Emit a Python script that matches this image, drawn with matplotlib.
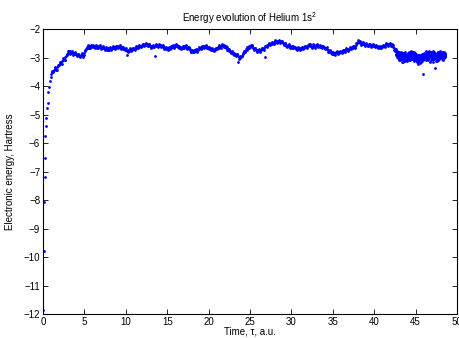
import matplotlib
matplotlib.use('Agg')
import matplotlib.pyplot as plt

plt.rcParams['font.family'] = ['Liberation Sans', 'DejaVu Sans']
plt.rcParams['mathtext.fontset'] = 'custom'
plt.rcParams['mathtext.rm'] = 'Liberation Sans'
plt.rcParams['mathtext.it'] = 'Liberation Sans:italic'

# first steps of the relaxation (steep rise)
start_t = [0.02, 0.08, 0.14, 0.18, 0.24, 0.26, 0.32, 0.38, 0.44, 0.56, 0.64, 0.72, 0.85, 0.93]
start_E = [-11.85, -9.78, -8.08, -7.18, -6.52, -5.75, -5.39, -5.12, -4.78, -4.58, -4.20, -4.02, -3.82, -3.67]

# main trajectory, one row per time unit
time = [
    1.0, 1.1, 1.2, 1.3, 1.4, 1.5, 1.6, 1.7, 1.8, 1.9,
    2.0, 2.1, 2.2, 2.3, 2.4, 2.5, 2.6, 2.7, 2.8, 2.9,
    3.0, 3.1, 3.2, 3.3, 3.4, 3.5, 3.6, 3.7, 3.8, 3.9,
    4.0, 4.1, 4.2, 4.3, 4.4, 4.5, 4.6, 4.7, 4.8, 4.9,
    5.0, 5.1, 5.2, 5.3, 5.4, 5.5, 5.6, 5.7, 5.8, 5.9,
    6.0, 6.1, 6.2, 6.3, 6.4, 6.5, 6.6, 6.7, 6.8, 6.9,
    7.0, 7.1, 7.2, 7.3, 7.4, 7.5, 7.6, 7.7, 7.8, 7.9,
    8.0, 8.1, 8.2, 8.3, 8.4, 8.5, 8.6, 8.7, 8.8, 8.9,
    9.0, 9.1, 9.2, 9.3, 9.4, 9.5, 9.6, 9.7, 9.8, 9.9,
    10.0, 10.1, 10.2, 10.3, 10.4, 10.5, 10.6, 10.7, 10.8, 10.9,
    11.0, 11.1, 11.2, 11.3, 11.4, 11.5, 11.6, 11.7, 11.8, 11.9,
    12.0, 12.1, 12.2, 12.3, 12.4, 12.5, 12.6, 12.7, 12.8, 12.9,
    13.0, 13.1, 13.2, 13.3, 13.4, 13.5, 13.6, 13.7, 13.8, 13.9,
    14.0, 14.1, 14.2, 14.3, 14.4, 14.5, 14.6, 14.7, 14.8, 14.9,
    15.0, 15.1, 15.2, 15.3, 15.4, 15.5, 15.6, 15.7, 15.8, 15.9,
    16.0, 16.1, 16.2, 16.3, 16.4, 16.5, 16.6, 16.7, 16.8, 16.9,
    17.0, 17.1, 17.2, 17.3, 17.4, 17.5, 17.6, 17.7, 17.8, 17.9,
    18.0, 18.1, 18.2, 18.3, 18.4, 18.5, 18.6, 18.7, 18.8, 18.9,
    19.0, 19.1, 19.2, 19.3, 19.4, 19.5, 19.6, 19.7, 19.8, 19.9,
    20.0, 20.1, 20.2, 20.3, 20.4, 20.5, 20.6, 20.7, 20.8, 20.9,
    21.0, 21.1, 21.2, 21.3, 21.4, 21.5, 21.6, 21.7, 21.8, 21.9,
    22.0, 22.1, 22.2, 22.3, 22.4, 22.5, 22.6, 22.7, 22.8, 22.9,
    23.0, 23.1, 23.2, 23.3, 23.4, 23.5, 23.6, 23.7, 23.8, 23.9,
    24.0, 24.1, 24.2, 24.3, 24.4, 24.5, 24.6, 24.7, 24.8, 24.9,
    25.0, 25.1, 25.2, 25.3, 25.4, 25.5, 25.6, 25.7, 25.8, 25.9,
    26.0, 26.1, 26.2, 26.3, 26.4, 26.5, 26.6, 26.7, 26.8, 26.9,
    27.0, 27.1, 27.2, 27.3, 27.4, 27.5, 27.6, 27.7, 27.8, 27.9,
    28.0, 28.1, 28.2, 28.3, 28.4, 28.5, 28.6, 28.7, 28.8, 28.9,
    29.0, 29.1, 29.2, 29.3, 29.4, 29.5, 29.6, 29.7, 29.8, 29.9,
    30.0, 30.1, 30.2, 30.3, 30.4, 30.5, 30.6, 30.7, 30.8, 30.9,
    31.0, 31.1, 31.2, 31.3, 31.4, 31.5, 31.6, 31.7, 31.8, 31.9,
    32.0, 32.1, 32.2, 32.3, 32.4, 32.5, 32.6, 32.7, 32.8, 32.9,
    33.0, 33.1, 33.2, 33.3, 33.4, 33.5, 33.6, 33.7, 33.8, 33.9,
    34.0, 34.1, 34.2, 34.3, 34.4, 34.5, 34.6, 34.7, 34.8, 34.9,
    35.0, 35.1, 35.2, 35.3, 35.4, 35.5, 35.6, 35.7, 35.8, 35.9,
    36.0, 36.1, 36.2, 36.3, 36.4, 36.5, 36.6, 36.7, 36.8, 36.9,
    37.0, 37.1, 37.2, 37.3, 37.4, 37.5, 37.6, 37.7, 37.8, 37.9,
    38.0, 38.1, 38.2, 38.3, 38.4, 38.5, 38.6, 38.7, 38.8, 38.9,
    39.0, 39.1, 39.2, 39.3, 39.4, 39.5, 39.6, 39.7, 39.8, 39.9,
    40.0, 40.1, 40.2, 40.3, 40.4, 40.5, 40.6, 40.7, 40.8, 40.9,
    41.0, 41.1, 41.2, 41.3, 41.4, 41.5, 41.6, 41.7, 41.8, 41.9,
    42.0, 42.1, 42.2, 42.3, 42.4, 42.5, 42.6, 42.7, 42.8, 42.9,
    43.0, 43.1, 43.2, 43.3, 43.4, 43.5, 43.6, 43.7, 43.8, 43.9,
    44.0, 44.1, 44.2, 44.3, 44.4, 44.5, 44.6, 44.7, 44.8, 44.9,
    45.0, 45.1, 45.2, 45.3, 45.4, 45.5, 45.6, 45.7, 45.8, 45.9,
    46.0, 46.1, 46.2, 46.3, 46.4, 46.5, 46.6, 46.7, 46.8, 46.9,
    47.0, 47.1, 47.2, 47.3, 47.4, 47.5, 47.6, 47.7, 47.8, 47.9,
    48.0, 48.1, 48.2, 48.3, 48.4, 48.5, 48.6,
]
energy = [
    -3.56, -3.50, -3.47, -3.43, -3.36, -3.40, -3.44, -3.33, -3.30, -3.27,
    -3.24, -3.18, -3.20, -3.12, -3.10, -3.04, -3.07, -2.98, -2.93, -2.90,
    -2.84, -2.78, -2.82, -2.76, -2.85, -2.80, -2.83, -2.88, -2.84, -2.87,
    -2.86, -2.91, -2.88, -2.94, -2.90, -2.96, -2.92, -2.89, -2.95, -2.91,
    -2.84, -2.76, -2.70, -2.64, -2.66, -2.61, -2.65, -2.60, -2.63, -2.59,
    -2.64, -2.60, -2.63, -2.58, -2.62, -2.66, -2.61, -2.64, -2.59, -2.63,
    -2.62, -2.66, -2.64, -2.68, -2.65, -2.71, -2.69, -2.73, -2.68, -2.70,
    -2.72, -2.67, -2.69, -2.65, -2.68, -2.63, -2.66, -2.62, -2.65, -2.61,
    -2.63, -2.60, -2.64, -2.61, -2.66, -2.63, -2.67, -2.70, -2.66, -2.71,
    -2.73, -2.91, -2.76, -2.72, -2.77, -2.70, -2.74, -2.69, -2.72, -2.68,
    -2.69, -2.65, -2.67, -2.63, -2.65, -2.60, -2.62, -2.58, -2.61, -2.57,
    -2.58, -2.54, -2.57, -2.53, -2.56, -2.52, -2.55, -2.58, -2.54, -2.59,
    -2.60, -2.63, -2.59, -2.62, -2.58, -2.95, -2.56, -2.59, -2.55, -2.58,
    -2.56, -2.59, -2.57, -2.61, -2.60, -2.64, -2.62, -2.67, -2.65, -2.69,
    -2.67, -2.70, -2.66, -2.69, -2.63, -2.61, -2.64, -2.59, -2.62, -2.58,
    -2.57, -2.60, -2.56, -2.62, -2.66, -2.68, -2.64, -2.67, -2.62, -2.65,
    -2.61, -2.63, -2.59, -2.62, -2.65, -2.63, -2.67, -2.70, -2.74, -2.79,
    -2.76, -2.80, -2.75, -2.78, -2.73, -2.76, -2.71, -2.74, -2.69, -2.67,
    -2.66, -2.63, -2.65, -2.61, -2.64, -2.60, -2.63, -2.61, -2.65, -2.62,
    -2.66, -2.69, -2.67, -2.71, -2.74, -2.72, -2.75, -2.70, -2.72, -2.68,
    -2.66, -2.63, -2.65, -2.61, -2.63, -2.59, -2.57, -2.60, -2.56, -2.59,
    -2.62, -2.66, -2.64, -2.69, -2.72, -2.78, -2.76, -2.81, -2.79, -2.84,
    -2.86, -2.90, -2.87, -2.92, -2.89, -2.95, -3.17, -2.99, -3.03, -2.97,
    -2.93, -2.88, -2.84, -2.80, -2.77, -2.71, -2.73, -2.66, -2.63, -2.60,
    -2.58, -2.55, -2.60, -2.63, -2.67, -2.70, -2.68, -2.73, -2.75, -2.72,
    -2.77, -2.74, -2.76, -2.72, -2.71, -2.68, -2.70, -2.66, -2.99, -2.61,
    -2.58, -2.55, -2.56, -2.52, -2.54, -2.50, -2.52, -2.48, -2.50, -2.47,
    -2.46, -2.43, -2.45, -2.41, -2.44, -2.42, -2.45, -2.43, -2.47, -2.44,
    -2.48, -2.52, -2.50, -2.55, -2.58, -2.60, -2.57, -2.61, -2.59, -2.63,
    -2.62, -2.65, -2.61, -2.64, -2.66, -2.69, -2.65, -2.68, -2.66, -2.70,
    -2.68, -2.65, -2.69, -2.66, -2.63, -2.65, -2.61, -2.64, -2.62, -2.60,
    -2.56, -2.53, -2.57, -2.60, -2.58, -2.62, -2.59, -2.57, -2.61, -2.58,
    -2.56, -2.59, -2.55, -2.58, -2.62, -2.60, -2.63, -2.60, -2.64, -2.62,
    -2.65, -2.68, -2.66, -2.70, -2.74, -2.77, -2.80, -2.78, -2.83, -2.81,
    -2.86, -2.83, -2.87, -2.84, -2.82, -2.85, -2.81, -2.83, -2.79, -2.82,
    -2.80, -2.77, -2.79, -2.75, -2.78, -2.73, -2.75, -2.71, -2.74, -2.70,
    -2.69, -2.66, -2.68, -2.64, -2.66, -2.62, -2.60, -2.63, -2.57, -2.50,
    -2.44, -2.40, -2.46, -2.48, -2.47, -2.51, -2.49, -2.53, -2.51, -2.55,
    -2.54, -2.57, -2.55, -2.58, -2.54, -2.57, -2.55, -2.59, -2.56, -2.58,
    -2.57, -2.60, -2.58, -2.62, -2.60, -2.64, -2.62, -2.65, -2.63, -2.61,
    -2.62, -2.59, -2.61, -2.56, -2.54, -2.52, -2.55, -2.51, -2.54, -2.52,
    -2.56, -2.53, -2.58, -2.62, -2.66, -2.72, -2.70, -2.78, -2.82, -2.86,
    -2.88, -2.95, -2.83, -3.05, -2.91, -2.98, -2.86, -3.08, -2.93, -2.99,
    -2.94, -3.02, -2.87, -2.97, -2.83, -2.90, -2.79, -2.88, -2.95, -2.84,
    -2.99, -3.08, -2.93, -3.12, -3.01, -2.95, -3.05, -2.91, -2.98, -3.03,
    -2.90, -2.96, -2.85, -2.93, -2.81, -2.88, -2.92, -2.80, -2.87, -2.95,
    -2.84, -2.91, -2.79, -2.88, -3.02, -2.94, -2.99, -2.90, -2.97, -2.86,
    -2.89, -2.82, -2.93, -2.85, -2.80, -2.90, -2.84,
]

# in-between samples, they give the band its width
mid_t = [
    1.05, 1.25, 1.45, 1.65, 1.85, 2.05, 2.25, 2.45, 2.65, 2.85,
    3.05, 3.25, 3.45, 3.65, 3.85, 4.05, 4.25, 4.45, 4.65, 4.85,
    5.05, 5.25, 5.45, 5.65, 5.85, 6.05, 6.25, 6.45, 6.65, 6.85,
    7.05, 7.25, 7.45, 7.65, 7.85, 8.05, 8.25, 8.45, 8.65, 8.85,
    9.05, 9.25, 9.45, 9.65, 9.85, 10.05, 10.25, 10.45, 10.65, 10.85,
    11.05, 11.25, 11.45, 11.65, 11.85, 12.05, 12.25, 12.45, 12.65, 12.85,
    13.05, 13.25, 13.45, 13.65, 13.85, 14.05, 14.25, 14.45, 14.65, 14.85,
    15.05, 15.25, 15.45, 15.65, 15.85, 16.05, 16.25, 16.45, 16.65, 16.85,
    17.05, 17.25, 17.45, 17.65, 17.85, 18.05, 18.25, 18.45, 18.65, 18.85,
    19.05, 19.25, 19.45, 19.65, 19.85, 20.05, 20.25, 20.45, 20.65, 20.85,
    21.05, 21.25, 21.45, 21.65, 21.85, 22.05, 22.25, 22.45, 22.65, 22.85,
    23.05, 23.25, 23.45, 23.65, 23.85, 24.05, 24.25, 24.45, 24.65, 24.85,
    25.05, 25.25, 25.45, 25.65, 25.85, 26.05, 26.25, 26.45, 26.65, 26.85,
    27.05, 27.25, 27.45, 27.65, 27.85, 28.05, 28.25, 28.45, 28.65, 28.85,
    29.05, 29.25, 29.45, 29.65, 29.85, 30.05, 30.25, 30.45, 30.65, 30.85,
    31.05, 31.25, 31.45, 31.65, 31.85, 32.05, 32.25, 32.45, 32.65, 32.85,
    33.05, 33.25, 33.45, 33.65, 33.85, 34.05, 34.25, 34.45, 34.65, 34.85,
    35.05, 35.25, 35.45, 35.65, 35.85, 36.05, 36.25, 36.45, 36.65, 36.85,
    37.05, 37.25, 37.45, 37.65, 37.85, 38.05, 38.25, 38.45, 38.65, 38.85,
    39.05, 39.25, 39.45, 39.65, 39.85, 40.05, 40.25, 40.45, 40.65, 40.85,
    41.05, 41.25, 41.45, 41.65, 41.85, 42.05, 42.25, 42.45,
]
mid_E = [
    -3.48, -3.52, -3.33, -3.45, -3.26, -3.15, -3.22, -3.02, -3.09, -2.86,
    -2.76, -2.86, -2.77, -2.90, -2.80, -2.95, -2.86, -2.99, -2.85, -2.97,
    -2.74, -2.70, -2.57, -2.67, -2.56, -2.57, -2.67, -2.56, -2.68, -2.57,
    -2.70, -2.60, -2.75, -2.64, -2.74, -2.64, -2.72, -2.59, -2.70, -2.58,
    -2.67, -2.57, -2.70, -2.63, -2.75, -2.68, -2.80, -2.66, -2.78, -2.65,
    -2.72, -2.59, -2.68, -2.55, -2.64, -2.51, -2.60, -2.49, -2.61, -2.52,
    -2.66, -2.55, -2.63, -2.52, -2.62, -2.52, -2.64, -2.57, -2.70, -2.62,
    -2.73, -2.62, -2.67, -2.56, -2.65, -2.53, -2.64, -2.61, -2.71, -2.59,
    -2.67, -2.56, -2.69, -2.63, -2.82, -2.72, -2.82, -2.69, -2.79, -2.63,
    -2.70, -2.58, -2.67, -2.57, -2.68, -2.63, -2.75, -2.68, -2.78, -2.65,
    -2.70, -2.57, -2.66, -2.53, -2.63, -2.59, -2.73, -2.70, -2.84, -2.77,
    -2.83, -2.96, -2.89, -3.04, -2.94, -2.96, -2.77, -2.80, -2.64, -2.67,
    -2.62, -2.55, -2.74, -2.65, -2.79, -2.70, -2.80, -2.65, -2.74, -2.59,
    -2.62, -2.49, -2.56, -2.46, -2.54, -2.40, -2.48, -2.38, -2.49, -2.41,
    -2.55, -2.50, -2.64, -2.54, -2.66, -2.58, -2.68, -2.62, -2.72, -2.63,
    -2.72, -2.62, -2.69, -2.58, -2.66, -2.60, -2.53, -2.65, -2.54, -2.65,
    -2.52, -2.62, -2.56, -2.67, -2.58, -2.71, -2.63, -2.80, -2.74, -2.87,
    -2.80, -2.90, -2.78, -2.87, -2.76, -2.84, -2.72, -2.80, -2.68, -2.77,
    -2.63, -2.71, -2.59, -2.66, -2.49, -2.47, -2.42, -2.55, -2.46, -2.58,
    -2.50, -2.61, -2.52, -2.62, -2.53, -2.63, -2.55, -2.68, -2.58, -2.67,
    -2.55, -2.63, -2.48, -2.58, -2.49, -2.60, -2.55, -2.74,
]

# noisy tail after t = 42.5: extra samples between the main steps
tail_t = [
    42.55, 42.65, 42.75, 42.85, 42.95,
    43.05, 43.15, 43.25, 43.35, 43.45, 43.55, 43.65, 43.75, 43.85, 43.95,
    44.05, 44.15, 44.25, 44.35, 44.45, 44.55, 44.65, 44.75, 44.85, 44.95,
    45.05, 45.15, 45.25, 45.35, 45.45, 45.55, 45.65, 45.75, 45.85, 45.95,
    46.05, 46.15, 46.25, 46.35, 46.45, 46.55, 46.65, 46.75, 46.85, 46.95,
    47.05, 47.15, 47.25, 47.35, 47.45, 47.55, 47.65, 47.75, 47.85, 47.95,
    48.05, 48.15, 48.25, 48.35, 48.45, 48.55,
]
tail_E1 = [
    -2.70, -2.78, -2.84, -2.93, -2.87,
    -2.79, -3.00, -2.92, -3.14, -2.85, -3.03, -2.96, -2.82, -3.10, -2.89,
    -2.99, -2.81, -3.06, -2.92, -2.76, -2.95, -3.01, -2.85, -3.09, -2.91,
    -2.88, -3.15, -2.97, -3.06, -2.90, -3.18, -3.03, -2.86, -2.94, -3.10,
    -2.83, -3.01, -2.78, -2.97, -2.88, -3.06, -2.76, -2.93, -2.99, -2.82,
    -2.91, -2.77, -3.05, -2.83, -3.12, -2.89, -3.08, -2.81, -2.95, -2.78,
    -2.96, -2.86, -3.02, -2.79, -2.91, -2.98,
]
tail_E2 = [
    -2.76, -2.90, -2.97, -2.81, -3.02,
    -3.10, -2.87, -3.06, -2.92, -3.16, -2.84, -3.04, -2.98, -2.90, -3.12,
    -2.85, -3.08, -2.93, -2.82, -3.04, -2.88, -2.80, -3.11, -2.87, -2.99,
    -3.09, -2.95, -3.21, -2.92, -3.10, -2.98, -3.14, -2.99, -2.88, -3.59,
    -3.04, -2.86, -3.10, -2.89, -3.07, -2.84, -3.02, -3.15, -2.80, -3.06,
    -2.99, -3.14, -2.85, -3.36, -2.93, -3.04, -2.82, -3.10, -2.87, -3.03,
    -2.80, -3.05, -2.88, -3.09, -2.83, -2.93,
]
tail_E3 = [
    -2.74, -2.86, -2.91, -3.00, -2.95,
    -2.94, -3.08, -2.82, -2.98, -3.04, -2.92, -2.85, -3.12, -2.95, -3.05,
    -2.90, -2.96, -2.84, -3.08, -2.95, -3.05, -2.88, -2.97, -2.82, -3.04,
    -2.96, -3.02, -2.90, -3.16, -2.97, -3.06, -2.92, -3.11, -3.02, -2.93,
    -2.95, -2.91, -2.97, -3.05, -2.82, -2.94, -2.89, -2.86, -3.08, -2.90,
    -3.06, -2.88, -2.94, -3.01, -2.86, -3.13, -2.93, -2.97, -3.04, -2.91,
    -2.88, -2.97, -2.84, -2.95, -3.03, -2.87,
]

x_ticks = [0, 5, 10, 15, 20, 25, 30, 35, 40, 45, 50]
y_ticks = [-12, -11, -10, -9, -8, -7, -6, -5, -4, -3, -2]


def main():
    fig = plt.figure(figsize=(4.6, 3.38), dpi=100)
    ax = fig.add_axes([0.0935, 0.071, 0.9, 0.843])

    series = [(start_t, start_E), (time, energy), (mid_t, mid_E),
              (tail_t, tail_E1), (tail_t, tail_E2), (tail_t, tail_E3)]
    for t, e in series:
        ax.plot(t, e, 'o', color='blue', markersize=2.0, markeredgewidth=0)

    ax.set_xlim(0, 50)
    ax.set_ylim(-12, -2)
    ax.set_xticks(x_ticks)
    ax.set_yticks(y_ticks)
    ax.tick_params(direction='in', top=True, right=True, length=3.5, width=0.6,
                   labelsize=7, pad=2)
    for s in ax.spines.values():
        s.set_linewidth(0.8)

    ax.set_title('Energy evolution of Helium 1s$^2$', fontsize=7, pad=5)
    ax.set_xlabel('Time, τ, a.u.', fontsize=7, labelpad=0)
    ax.set_ylabel('Electronic energy, Hartress', fontsize=7, labelpad=6)

    fig.savefig('out.png', dpi=100)


if __name__ == '__main__':
    main()
